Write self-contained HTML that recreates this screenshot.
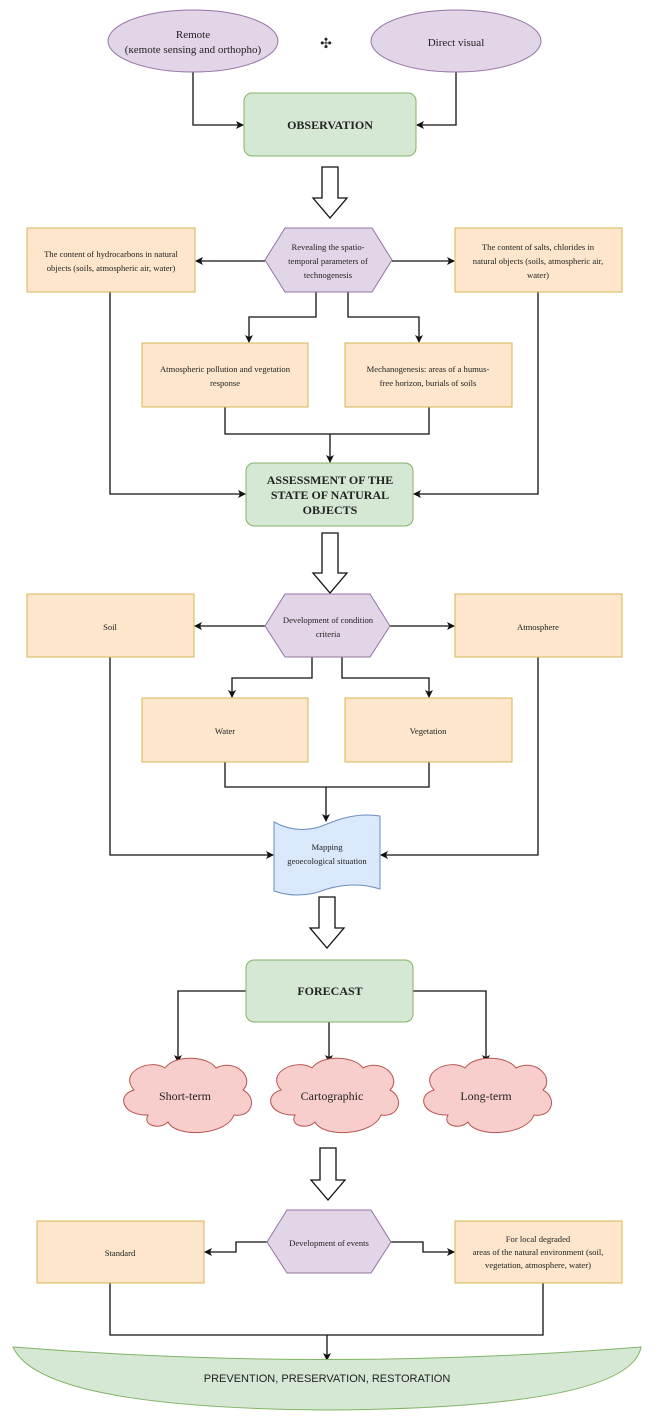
<!DOCTYPE html>
<html><head><meta charset="utf-8"><style>
html,body{margin:0;padding:0;background:#fff;}
svg{display:block;}
text{font-family:"Liberation Serif",serif;fill:#222;}
</style></head><body>
<svg width="669" height="1416" viewBox="0 0 669 1416" xmlns="http://www.w3.org/2000/svg">
<defs>
<marker id="a" markerWidth="8" markerHeight="8" refX="7" refY="4" orient="auto" markerUnits="userSpaceOnUse">
<path d="M0,0 L8,4 L0,8 L2,4 Z" fill="#111"/></marker>
</defs>
<g stroke="#111" stroke-width="1.3" fill="none">
<!-- top -->
<polyline points="193,72 193,125 243,125" marker-end="url(#a)"/>
<polyline points="456,72 456,125 417,125" marker-end="url(#a)"/>
<!-- revealing -->
<line x1="265" y1="261" x2="196" y2="261" marker-end="url(#a)"/>
<line x1="392" y1="261" x2="454" y2="261" marker-end="url(#a)"/>
<polyline points="316,292 316,317 249,317 249,342" marker-end="url(#a)"/>
<polyline points="348,292 348,317 419,317 419,342" marker-end="url(#a)"/>
<polyline points="225,407 225,434 429,434 429,407"/>
<line x1="330" y1="434" x2="330" y2="462" marker-end="url(#a)"/>
<polyline points="110,292 110,494 245,494" marker-end="url(#a)"/>
<polyline points="538,292 538,494 414,494" marker-end="url(#a)"/>
<!-- condition -->
<line x1="265" y1="626" x2="195" y2="626" marker-end="url(#a)"/>
<line x1="390" y1="626" x2="454" y2="626" marker-end="url(#a)"/>
<polyline points="312,657 312,678 232,678 232,697" marker-end="url(#a)"/>
<polyline points="342,657 342,678 429,678 429,697" marker-end="url(#a)"/>
<polyline points="225,762 225,787 429,787 429,762"/>
<line x1="326" y1="787" x2="326" y2="821" marker-end="url(#a)"/>
<polyline points="110,657 110,855 273,855" marker-end="url(#a)"/>
<polyline points="538,657 538,855 381,855" marker-end="url(#a)"/>
<!-- forecast -->
<polyline points="246,991 178,991 178,1062" marker-end="url(#a)"/>
<polyline points="413,991 486,991 486,1062" marker-end="url(#a)"/>
<line x1="329" y1="1022" x2="329" y2="1062" marker-end="url(#a)"/>
<!-- events -->
<polyline points="267,1242 236,1242 236,1252 205,1252" marker-end="url(#a)"/>
<polyline points="391,1242 423,1242 423,1252 454,1252" marker-end="url(#a)"/>
<polyline points="110,1283 110,1335 543,1335 543,1283"/>
<line x1="327" y1="1335" x2="327" y2="1360" marker-end="url(#a)"/>
</g>
<!-- hollow arrows -->
<g fill="#fff" stroke="#111" stroke-width="1.3">
<path d="M322,167 L338,167 L338,198 L347,198 L330,218 L313,198 L322,198 Z"/>
<path d="M322,533 L338,533 L338,573 L347,573 L330,593 L313,573 L322,573 Z"/>
<path d="M319,897 L335,897 L335,928 L344,928 L327,948 L310,928 L319,928 Z"/>
<path d="M320,1148 L336,1148 L336,1180 L345,1180 L328,1200 L311,1180 L320,1180 Z"/>
</g>
<!-- ellipses -->
<g fill="#e1d5e7" stroke="#9673a6" stroke-width="1">
<ellipse cx="193" cy="41" rx="85" ry="31"/>
<ellipse cx="456" cy="41" rx="85" ry="31"/>
<polygon points="285,228 372,228 392,260 372,292 285,292 265,260"/>
<polygon points="285,594 370,594 390,626 370,657 285,657 265,626"/>
<polygon points="287,1210 371,1210 391,1242 371,1273 287,1273 267,1242"/>
</g>
<text x="193" y="38" font-size="11" text-anchor="middle">Remote</text>
<text x="193" y="53" font-size="11" text-anchor="middle">(кemote sensing and orthopho)</text>
<text x="456" y="46" font-size="11" text-anchor="middle">Direct visual</text>
<text x="326" y="48" font-size="14" text-anchor="middle">✣</text>
<!-- green -->
<g fill="#d5e8d4" stroke="#82b366" stroke-width="1">
<rect x="244" y="93" width="172" height="63" rx="8"/>
<rect x="246" y="463" width="167" height="63" rx="8"/>
<rect x="246" y="960" width="167" height="62" rx="8"/>
<path d="M13,1347 Q327,1372 641,1347 Q630,1408 327,1410 Q40,1408 13,1347 Z"/>
</g>
<g font-weight="bold" text-anchor="middle">
<text x="330" y="129" font-size="12">OBSERVATION</text>
<text x="330" y="484" font-size="12">ASSESSMENT OF THE</text>
<text x="330" y="499" font-size="12">STATE OF NATURAL</text>
<text x="330" y="514" font-size="12">OBJECTS</text>
<text x="330" y="995" font-size="12">FORECAST</text>
</g>
<text x="327" y="1382" font-size="11" text-anchor="middle" style="font-family:'Liberation Sans',sans-serif">PREVENTION, PRESERVATION, RESTORATION</text>
<!-- orange boxes -->
<g fill="#fde6cb" stroke="#d6b656" stroke-width="1">
<rect x="27" y="228" width="168" height="64"/>
<rect x="455" y="228" width="167" height="64"/>
<rect x="142" y="343" width="166" height="64"/>
<rect x="345" y="343" width="167" height="64"/>
<rect x="27" y="594" width="167" height="63"/>
<rect x="455" y="594" width="167" height="63"/>
<rect x="142" y="698" width="166" height="64"/>
<rect x="345" y="698" width="167" height="64"/>
<rect x="37" y="1221" width="167" height="62"/>
<rect x="455" y="1221" width="167" height="62"/>
</g>
<g font-size="8.6" text-anchor="middle">
<text x="111" y="257">The content of hydrocarbons in natural</text>
<text x="111" y="271">objects (soils, atmospheric air, water)</text>
<text x="328" y="250">Revealing the spatio-</text>
<text x="328" y="264">temporal parameters of</text>
<text x="328" y="278">technogenesis</text>
<text x="538" y="250">The content of salts, chlorides in</text>
<text x="538" y="264">natural objects (soils, atmospheric air,</text>
<text x="538" y="278">water)</text>
<text x="225" y="372">Atmospheric pollution and vegetation</text>
<text x="225" y="386">response</text>
<text x="428" y="372">Mechanogenesis: areas of a humus-</text>
<text x="428" y="386">free horizon, burials of soils</text>
<text x="110" y="630">Soil</text>
<text x="538" y="630">Atmosphere</text>
<text x="328" y="623">Development of condition</text>
<text x="328" y="637">criteria</text>
<text x="225" y="734">Water</text>
<text x="428" y="734">Vegetation</text>
<text x="120" y="1256">Standard</text>
<text x="329" y="1246">Development of events</text>
<text x="538" y="1242">For local degraded</text>
<text x="538" y="1255">areas of the natural environment (soil,</text>
<text x="538" y="1268">vegetation, atmosphere, water)</text>
</g>
<!-- document -->
<path d="M274,822 Q300,836 327,824 Q355,812 380,816 L380,889 Q355,881 327,889 Q300,900 274,891 Z" fill="#dae8fc" stroke="#6c8ebf" stroke-width="1"/>
<text x="327" y="850" font-size="8.6" text-anchor="middle">Mapping</text>
<text x="327" y="864" font-size="8.6" text-anchor="middle">geoecological situation</text>
<!-- clouds -->
<g fill="#f8cecc" stroke="#b85450" stroke-width="1">
<path id="c1" d="M148,1115 C122,1116 116,1095 134,1090 C118,1072 150,1058 165,1068 C175,1054 208,1056 216,1068 C236,1058 255,1078 243,1090 C258,1098 252,1118 234,1115 C226,1136 176,1138 168,1122 C160,1130 142,1126 148,1115 Z"/>
<path transform="translate(147,0)" d="M148,1115 C122,1116 116,1095 134,1090 C118,1072 150,1058 165,1068 C175,1054 208,1056 216,1068 C236,1058 255,1078 243,1090 C258,1098 252,1118 234,1115 C226,1136 176,1138 168,1122 C160,1130 142,1126 148,1115 Z"/>
<path transform="translate(300,0)" d="M148,1115 C122,1116 116,1095 134,1090 C118,1072 150,1058 165,1068 C175,1054 208,1056 216,1068 C236,1058 255,1078 243,1090 C258,1098 252,1118 234,1115 C226,1136 176,1138 168,1122 C160,1130 142,1126 148,1115 Z"/>
</g>
<g font-size="12" text-anchor="middle">
<text x="185" y="1100">Short-term</text>
<text x="332" y="1100">Cartographic</text>
<text x="486" y="1100">Long-term</text>
</g>
</svg>
</body></html>
